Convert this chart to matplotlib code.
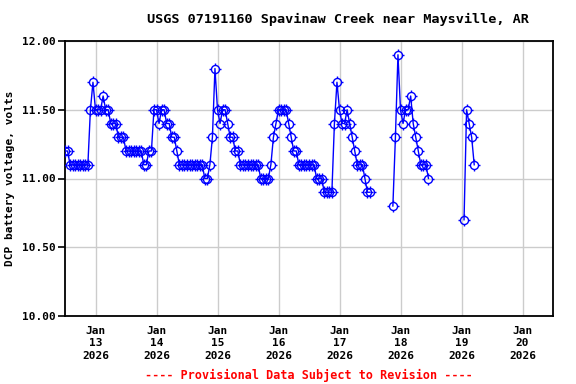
import numpy as np
import matplotlib
matplotlib.use("Agg")
import matplotlib.pyplot as plt
from matplotlib.path import Path

# ---- data ----
start_time = "2026-01-12T12:00"
hours = list(range(0, 121)) + list(range(129, 144)) + [157, 158, 159, 160, 161]
volts = (
    [11.2, 11.2] + [11.1] * 8 +
    [11.5, 11.7, 11.5, 11.5, 11.5, 11.6, 11.5, 11.5, 11.4, 11.4, 11.4, 11.3, 11.3, 11.3] +
    [11.2] * 7 + [11.1, 11.1, 11.2, 11.2] +
    [11.5, 11.5, 11.4, 11.5, 11.5, 11.4, 11.4, 11.3, 11.3, 11.2] +
    [11.1] * 10 + [11.0, 11.0, 11.1, 11.3, 11.8, 11.5, 11.4, 11.5, 11.5, 11.4, 11.3, 11.3, 11.2, 11.2] +
    [11.1] * 8 + [11.0] * 4 + [11.1, 11.3, 11.4, 11.5, 11.5, 11.5, 11.5, 11.4, 11.3, 11.2, 11.2] +
    [11.1] * 7 + [11.0] * 3 + [10.9] * 4 +
    [11.4, 11.7, 11.5, 11.4, 11.4, 11.5, 11.4, 11.3, 11.2, 11.1, 11.1, 11.1, 11.0, 10.9, 10.9] +
    [10.8, 11.3, 11.9, 11.5, 11.4, 11.5, 11.5, 11.6, 11.4, 11.3, 11.2, 11.1, 11.1, 11.1, 11.0] +
    [10.7, 11.5, 11.4, 11.3, 11.1]
)
title = "USGS 07191160 Spavinaw Creek near Maysville, AR"
ylabel = "DCP battery voltage, volts"
footer = "---- Provisional Data Subject to Revision ----"
yticks = [10.0, 10.5, 11.0, 11.5, 12.0]
xtick_days = ["2026-01-13", "2026-01-14", "2026-01-15", "2026-01-16",
              "2026-01-17", "2026-01-18", "2026-01-19", "2026-01-20"]

# ---- build series with gaps ----
t0 = np.datetime64(start_time)
times = [t0 + np.timedelta64(h, "h") for h in hours]
tt, vv = [], []
for i, (t, v) in enumerate(zip(times, volts)):
    if i > 0 and hours[i] - hours[i - 1] > 1:
        tt.append(t - np.timedelta64(30, "m"))
        vv.append(np.nan)
    tt.append(t)
    vv.append(v)
tt = np.array(tt, dtype="datetime64[m]")

# tick marks around the circle marker
ticks_verts = [(0, 0.7), (0, 1.0), (0, -0.7), (0, -1.0),
               (0.7, 0), (1.0, 0), (-0.7, 0), (-1.0, 0)]
ticks_codes = [Path.MOVETO, Path.LINETO] * 4
tick_marker = Path(ticks_verts, ticks_codes)

font = "DejaVu Sans Mono"
fig = plt.figure(figsize=(5.76, 3.84), dpi=100)
ax = fig.add_axes([65 / 576, 1 - 316 / 384, (553 - 65) / 576, (316 - 41) / 384])

ax.plot(tt, vv, color="#0000ff", lw=1.0, marker="o", ms=5.8,
        mfc="none", mec="#0000ff", mew=1.0, zorder=3)
ax.plot(tt, vv, linestyle="none", marker=tick_marker, ms=8.5,
        mec="#0000ff", mew=1.0, zorder=3)

ax.set_xlim(np.datetime64("2026-01-12T12:00"), np.datetime64("2026-01-20T12:00"))
ax.set_ylim(10.0, 12.0)
ax.set_yticks(yticks)
ax.set_yticklabels([f"{y:.2f}" for y in yticks], fontfamily=font, fontweight="bold", fontsize=8)
xt = [np.datetime64(d + "T00:00") for d in xtick_days]
ax.set_xticks(xt)
labels = []
for d in xtick_days:
    y, m, dd = d.split("-")
    labels.append(f"Jan\n{int(dd)}\n{y}")
ax.set_xticklabels(labels, fontfamily=font, fontweight="bold", fontsize=8, linespacing=1.3)
ax.tick_params(axis="x", length=0, pad=7)
ax.tick_params(axis="y", length=5, width=1.2, direction="out", pad=2)
ax.grid(True, color="#cccccc", lw=1.0, zorder=0)
ax.set_axisbelow(True)
for s in ax.spines.values():
    s.set_linewidth(1.3)
    s.set_color("black")

ax.set_ylabel(ylabel, fontfamily=font, fontweight="bold", fontsize=8, labelpad=5)
fig.text(338 / 576, 1 - 19 / 384, title, ha="center", va="center",
         fontfamily=font, fontweight="bold", fontsize=9.7)
fig.text(309 / 576, 1 - 375 / 384, footer, ha="center", va="center",
         fontfamily=font, fontweight="bold", fontsize=8.5, color="red")

fig.savefig("out.png", dpi=100)
